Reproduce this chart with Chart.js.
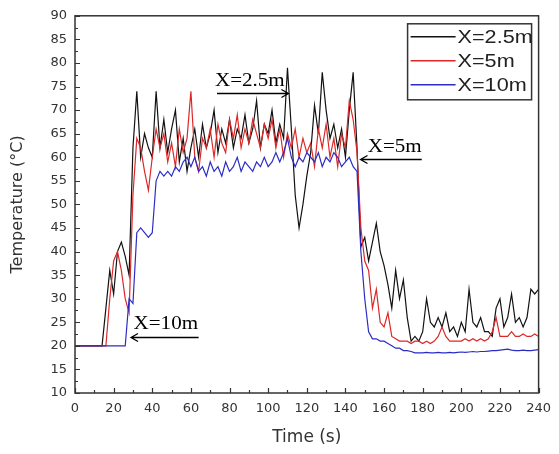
<!DOCTYPE html>
<html><head><meta charset="utf-8">
<script src="https://cdn.jsdelivr.net/npm/chart.js@4/dist/chart.umd.min.js"></script>
<style>html,body{margin:0;padding:0;background:#fff;}#wrap{width:559px;height:454px;}</style>
</head><body><div id="wrap"><canvas id="c" width="559" height="454"></canvas></div>
<script>
// Time (s)
const times = [
  0,2,4,6,8,10,12,14,16,18,
  20,22,24,26,28,30,32,34,36,38,
  40,42,44,46,48,50,52,54,56,58,
  60,62,64,66,68,70,72,74,76,78,
  80,82,84,86,88,90,92,94,96,98,
  100,102,104,106,108,110,112,114,116,118,
  120,122,124,126,128,130,132,134,136,138,
  140,142,144,146,148,150,152,154,156,158,
  160,162,164,166,168,170,172,174,176,178,
  180,182,184,186,188,190,192,194,196,198,
  200,202,204,206,208,210,212,214,216,218,
  220,222,224,226,228,230,232,234,236,238,
  240
];
// X=2.5m
const temp25 = [
  20,20,20,20,20,20,20,20,28,36,
  31,40,42,39,35,62,74,60,65,62,
  60,74,62,68,61,66,70,59,64,57,
  62,66,60,67,62,65,70,61,66,63,
  68,62,66,64,69,63,66,72,62,67,
  65,70,63,67,64,79,66,52,45,50,
  56,61,71,65,78,70,64,67,62,66,
  60,70,78,62,41,43,38,42,46,40,
  37,33,28,36,30,34,26,21,22,21,
  23,30,25,24,26,24,27,23,24,22,
  25,23,32,25,24,26,23,23,22,28,
  30,24,26,31,25,26,24,26,32,31,
  32
];
// X=5m
const temp5 = [
  20,20,20,20,20,20,20,20,20,30,
  38,40,36,30,27,52,64,62,57,53,
  60,66,62,65,59,63,58,66,61,64,
  74,60,57,64,62,66,60,67,63,61,
  68,64,69,62,66,63,68,65,62,67,
  64,68,62,66,60,65,62,66,60,64,
  61,63,58,66,62,67,60,64,58,65,
  62,72,68,61,45,38,36,28,32,25,
  24,27,22,21.5,21,21,21,20.5,21,21,
  20.5,21,20.5,21,22,24,22,21,21,21,
  21,21.5,21,21.5,21,21.5,21,21.5,23,26,
  22,22,22,23,22,22,22.5,22,22,22.5,
  22
];
// X=10m
const temp10 = [
  20,20,20,20,20,20,20,20,20,20,
  20,20,20,20,30,29,44,45,44,43,
  44,55,57,56,57,56,58,57,59,60,
  58,60,57,58,56,59,57,58,56,59,
  57,58,60,57,59,58,57,59,58,60,
  58,59,61,59,61,64,60,58,60,59,
  61,60,59,61,58,60,59,61,60,58,
  59,60,58,57,40,30,23,21.5,21.5,21,
  21,20.5,20,19.5,19.5,19,19,18.8,18.5,18.5,
  18.5,18.6,18.5,18.5,18.6,18.5,18.5,18.6,18.5,18.6,
  18.7,18.6,18.7,18.8,18.7,18.8,18.8,18.9,19,19,
  19.1,19.2,19.3,19.1,19,19,19.1,19,19,19.1,
  19.2
];
const seriesLabels = ['X=2.5m', 'X=5m', 'X=10m'];
const seriesColors = ['#111111', '#dc2828', '#2c2cc4'];
const xTickStep = 20, yTickStep = 5;

// annotations: text + arrow, in data coordinates
const notes = [
  {text: 'X=2.5m', tx: 90.5, ty: 76.2, ax0: 73.5, ax1: 110.5, ay: 73.7},
  {text: 'X=5m',   tx: 165.5, ty: 62.2, ax0: 179.5, ax1: 147.8, ay: 59.7},
  {text: 'X=10m',  tx: 47,   ty: 24.6, ax0: 64,   ax1: 29,   ay: 21.9}
];

function pts(arr){ return times.map((t,i)=>({x:t, y:arr[i]})); }

function wideText(ctx, txt, x, y, sx){
  ctx.save();
  ctx.translate(x, y);
  ctx.scale(sx, 1);
  ctx.fillText(txt, 0, 0);
  ctx.restore();
}

const framePlugin = {
  id: 'frame',
  afterDraw(chart){
    const {ctx, chartArea: a, scales:{x, y}} = chart;
    ctx.save();
    ctx.strokeStyle = '#333';
    ctx.lineWidth = 1.5;
    ctx.strokeRect(a.left, a.top, a.right - a.left, a.bottom - a.top);
    ctx.lineWidth = 1.2;
    ctx.beginPath();
    for (let v = x.min; v <= x.max; v += xTickStep/2) {
      const px = Math.round(x.getPixelForValue(v)) + 0.5;
      const len = (Math.round(v) % xTickStep === 0) ? 5 : 3;
      ctx.moveTo(px, a.bottom); ctx.lineTo(px, a.bottom - len);
    }
    for (let v = y.min; v <= y.max; v += yTickStep/2) {
      const py = Math.round(y.getPixelForValue(v)) + 0.5;
      const len = (Math.abs(v % yTickStep) < 1e-6) ? 5 : 3;
      ctx.moveTo(a.left, py); ctx.lineTo(a.left + len, py);
    }
    ctx.stroke();

    // legend
    const lw = 124, lh = 76;
    const lx = a.right - 131, ly = a.top + 8;
    ctx.fillStyle = '#fff';
    ctx.fillRect(lx, ly, lw, lh);
    ctx.strokeStyle = '#333';
    ctx.lineWidth = 1.5;
    ctx.strokeRect(lx, ly, lw, lh);
    ctx.font = '18px "Liberation Sans", Arial, sans-serif';
    ctx.textBaseline = 'middle';
    ctx.textAlign = 'left';
    chart.data.datasets.forEach((ds, i) => {
      const ry = ly + 13 + i * 24;
      ctx.strokeStyle = ds.borderColor;
      ctx.lineWidth = 1.5;
      ctx.beginPath(); ctx.moveTo(lx + 3, ry); ctx.lineTo(lx + 48, ry); ctx.stroke();
      ctx.fillStyle = '#222';
      wideText(ctx, ds.label, lx + 50, ry + 1, 1.2);
    });

    // annotations
    ctx.font = '18px "Liberation Serif", "Times New Roman", serif';
    ctx.fillStyle = '#000';
    ctx.strokeStyle = '#000';
    ctx.textAlign = 'center';
    ctx.textBaseline = 'middle';
    notes.forEach(n => {
      wideText(ctx, n.text, x.getPixelForValue(n.tx), y.getPixelForValue(n.ty), 1.17);
      const x0 = x.getPixelForValue(n.ax0), x1 = x.getPixelForValue(n.ax1);
      const py = Math.round(y.getPixelForValue(n.ay)) + 0.5;
      const dir = x1 > x0 ? 1 : -1;
      ctx.lineWidth = 1.3;
      ctx.beginPath();
      ctx.moveTo(x0, py); ctx.lineTo(x1, py);
      ctx.moveTo(x1 - dir * 7, py - 4); ctx.lineTo(x1, py); ctx.lineTo(x1 - dir * 7, py + 4);
      ctx.stroke();
    });
    ctx.restore();
  }
};

const tickFont = {family: '"DejaVu Sans", sans-serif', size: 13};
const titleFontFam = '"DejaVu Sans", sans-serif';

new Chart(document.getElementById('c'), {
  type: 'line',
  data: {
    datasets: [
      {label: seriesLabels[0], data: pts(temp25), borderColor: seriesColors[0], order: 2},
      {label: seriesLabels[1], data: pts(temp5), borderColor: seriesColors[1], order: 1},
      {label: seriesLabels[2], data: pts(temp10), borderColor: seriesColors[2], order: 0}
    ].map(d => Object.assign(d, {borderWidth: 1.2, pointRadius: 0, tension: 0, fill: false}))
  },
  options: {
    responsive: false,
    animation: false,
    devicePixelRatio: 1,
    layout: {padding: {top: 15, right: 15, left: 0, bottom: 0}},
    plugins: {legend: {display: false}, tooltip: {enabled: false}},
    scales: {
      x: {
        type: 'linear', min: 0, max: 240,
        ticks: {stepSize: xTickStep, color: '#333', font: tickFont, padding: 8, maxRotation: 0},
        grid: {display: false, drawTicks: false},
        border: {display: false},
        title: {display: true, text: 'Time (s)', color: '#333', font: {family: titleFontFam, size: 17}, padding: {top: 0, bottom: 6}},
        afterFit(s){ s.height = 61; }
      },
      y: {
        min: 10, max: 90,
        ticks: {stepSize: yTickStep, color: '#333', font: tickFont, padding: 8},
        grid: {display: false, drawTicks: false},
        border: {display: false},
        title: {display: true, text: 'Temperature (°C)', color: '#333', font: {family: titleFontFam, size: 16}, padding: {top: 8, bottom: 0}},
        afterFit(s){ s.width = 75; }
      }
    }
  },
  plugins: [framePlugin]
});
</script>
</body></html>
